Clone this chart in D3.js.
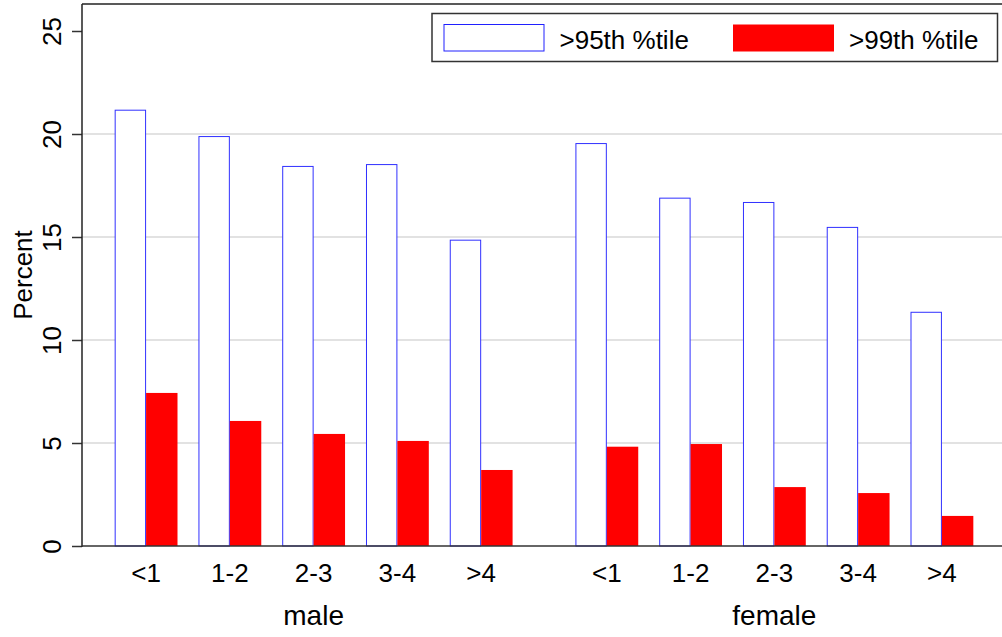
<!DOCTYPE html>
<html>
<head>
<meta charset="utf-8">
<script src="https://cdn.jsdelivr.net/npm/d3@7"></script>
<style>
    body { margin: 0; background: #fff; }
    svg text { font-family: "Liberation Sans", Arial, sans-serif; fill: #000; }
</style>
</head>
<body>
<svg id="bar_chart" width="1002" height="637"></svg>
<script>
// data
var groups = ["male", "female"];
var categories = ["<1", "1-2", "2-3", "3-4", ">4"];
var series = [">95th %tile", ">99th %tile"];
var male_95 = [21.18, 19.90, 18.45, 18.54, 14.87];
var male_99 = [7.43, 6.07, 5.44, 5.10, 3.69];
var female_95 = [19.56, 16.91, 16.70, 15.49, 11.37];
var female_99 = [4.82, 4.95, 2.86, 2.57, 1.46];
var y_ticks = [0, 5, 10, 15, 20, 25];

var svg = d3.select("svg#bar_chart");

const LEFT = 82;
const TOP = 4;
const BOTTOM = 546;
const RIGHT = 1006;
const GROUP_GAP = 5.5; // slots between first bars of each group

// one row per category within a group
var dataset = [];
groups.forEach(function(group, g) {
    var v95 = g == 0 ? male_95 : female_95;
    var v99 = g == 0 ? male_99 : female_99;
    categories.forEach(function(cat, i) {
        dataset.push({group: group, cat: cat, slot: g * GROUP_GAP + i, p95: v95[i], p99: v99[i]});
    });
});

var xscale = d3.scaleLinear()
    .domain([-0.765, 10.265])
    .range([LEFT, RIGHT]);
var bar_w = xscale(0.375) - xscale(0);

var yscale = d3.scaleLinear()
    .domain([0, 25])
    .range([BOTTOM, 31]);

// grid lines
svg.append("g")
    .selectAll("line")
    .data(y_ticks.filter(d => d > 0 && d < 25))
    .enter().append("line")
    .attr("x1", LEFT)
    .attr("x2", 1002)
    .attr("y1", d => yscale(d))
    .attr("y2", d => yscale(d))
    .attr("stroke", "#e2e2e2")
    .attr("stroke-width", 2);

// bars
var bars = svg.append("g").attr("class", "bars");
bars.selectAll("rect.p95")
    .data(dataset)
    .enter().append("rect")
    .attr("class", "p95")
    .attr("x", d => xscale(d.slot) - bar_w + 0.5)
    .attr("y", d => yscale(d.p95) + 0.5)
    .attr("width", bar_w - 1)
    .attr("height", d => yscale(0) - yscale(d.p95) - 0.5)
    .attr("fill", "#fff")
    .attr("stroke", "#3030ff")
    .attr("stroke-width", 1);

bars.selectAll("rect.p99")
    .data(dataset)
    .enter().append("rect")
    .attr("class", "p99")
    .attr("x", d => xscale(d.slot))
    .attr("y", d => yscale(d.p99))
    .attr("width", bar_w)
    .attr("height", d => yscale(0) - yscale(d.p99))
    .attr("fill", "#ff0000");

// y axis
var yaxis = d3.axisLeft(yscale)
    .tickValues(y_ticks)
    .tickSize(10)
    .tickSizeOuter(0)
    .tickFormat(d3.format("d"));

var yg = svg.append("g")
    .attr("transform", "translate(" + LEFT + ",0)")
    .call(yaxis);
yg.select(".domain").remove();
yg.selectAll(".tick line").attr("stroke", "#333").attr("stroke-width", 1.5);
yg.selectAll(".tick text")
    .attr("transform", "rotate(-90)")
    .attr("x", 0)
    .attr("y", -21)
    .attr("dy", 0)
    .attr("text-anchor", "middle")
    .style("font-size", "26px")
    .style("font-family", "Liberation Sans, Arial, sans-serif");

// frame: left, top, bottom
svg.append("line")
    .attr("x1", LEFT).attr("x2", LEFT)
    .attr("y1", TOP).attr("y2", BOTTOM + 1)
    .attr("stroke", "#222").attr("stroke-width", 1.5);
svg.append("line")
    .attr("x1", LEFT).attr("x2", 1002)
    .attr("y1", TOP).attr("y2", TOP)
    .attr("stroke", "#222").attr("stroke-width", 1.5);
svg.append("line")
    .attr("x1", LEFT).attr("x2", 1002)
    .attr("y1", BOTTOM).attr("y2", BOTTOM)
    .attr("stroke", "#333").attr("stroke-width", 1.5);

// y label
svg.append("text")
    .attr("transform", "translate(32," + 275 + ") rotate(-90)")
    .attr("text-anchor", "middle")
    .style("font-size", "26px")
    .text("Percent");

// category labels
svg.append("g")
    .selectAll("text")
    .data(dataset)
    .enter().append("text")
    .attr("x", d => xscale(d.slot))
    .attr("y", 582)
    .attr("text-anchor", "middle")
    .style("font-size", "26px")
    .text(d => d.cat);

// group labels
svg.append("g")
    .selectAll("text")
    .data(groups)
    .enter().append("text")
    .attr("x", (d, g) => xscale(g * GROUP_GAP + 2))
    .attr("y", 625)
    .attr("text-anchor", "middle")
    .style("font-size", "28px")
    .text(d => d);

// legend
var legend = svg.append("g").attr("class", "legend");
legend.append("rect")
    .attr("x", 432).attr("y", 13.5)
    .attr("width", 565.5).attr("height", 48)
    .attr("fill", "#fff")
    .attr("stroke", "#333").attr("stroke-width", 1.5);

var legend_x = [443.5, 733];
series.forEach(function(name, i) {
    if (i == 0) {
        legend.append("rect")
            .attr("x", legend_x[i] + 0.5).attr("y", 24.5)
            .attr("width", 100).attr("height", 26.5)
            .attr("fill", "#fff")
            .attr("stroke", "#2020ff").attr("stroke-width", 1);
    } else {
        legend.append("rect")
            .attr("x", legend_x[i]).attr("y", 24.5)
            .attr("width", 101).attr("height", 27)
            .attr("fill", "#ff0000");
    }
    legend.append("text")
        .attr("x", legend_x[i] + 116)
        .attr("y", 49)
        .style("font-size", "26px")
        .text(name);
});
</script>
</body>
</html>
